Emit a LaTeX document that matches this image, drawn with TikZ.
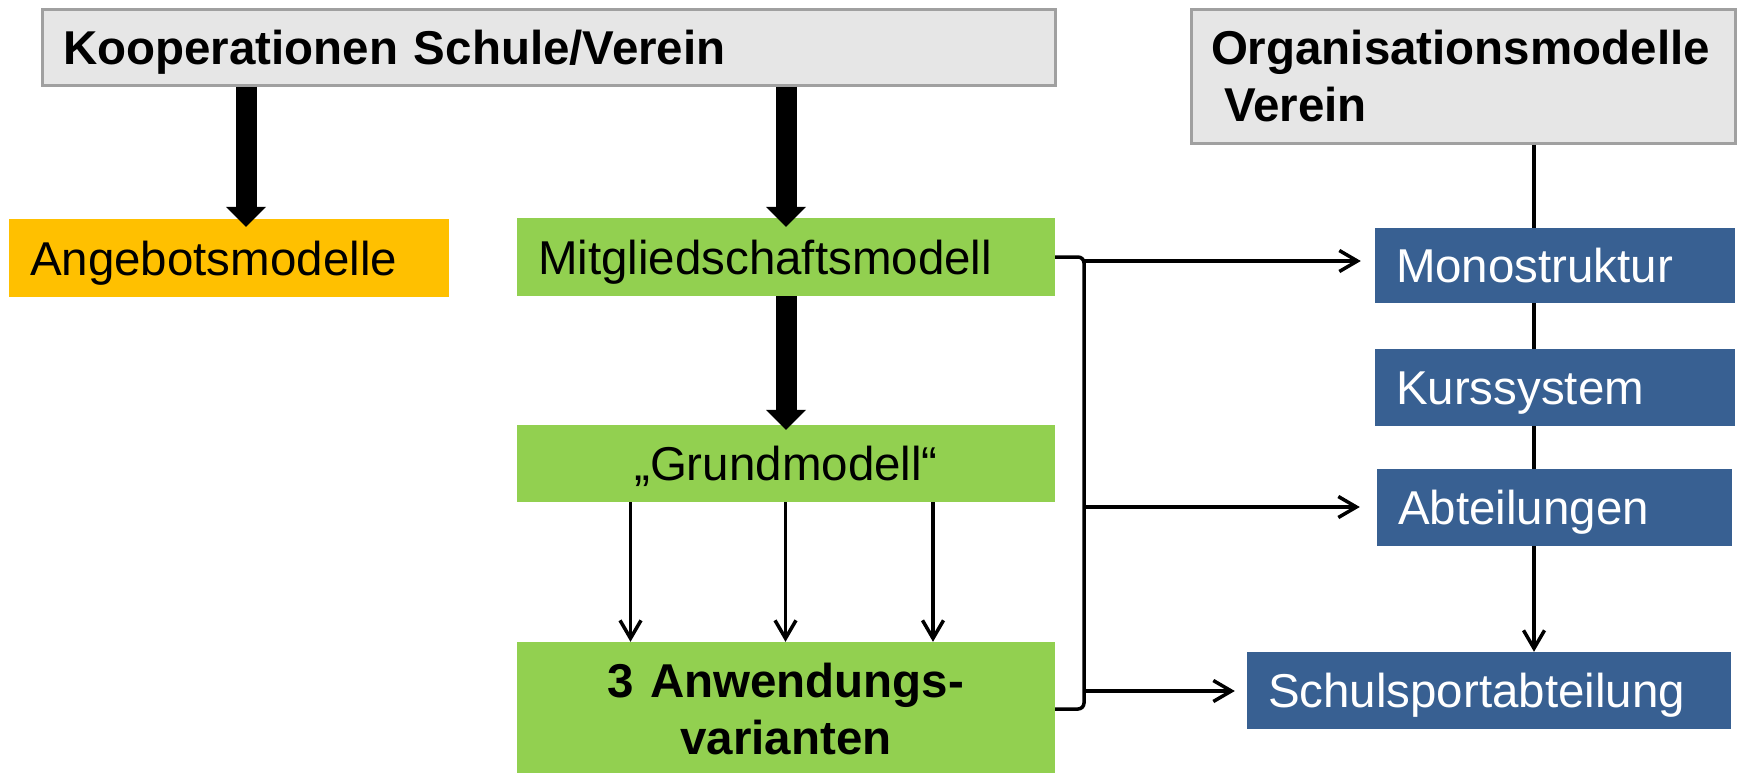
\documentclass[tikz,border=0pt]{standalone}
\usepackage{fontspec}
\setmainfont{Liberation Sans}
\usetikzlibrary{arrows.meta}
\definecolor{boxgray}{RGB}{230,230,230}
\definecolor{bordergray}{RGB}{160,160,160}
\definecolor{orng}{RGB}{255,192,0}
\definecolor{grn}{RGB}{146,208,80}
\definecolor{blu}{RGB}{56,96,146}
\tikzset{
  basebox/.style={font=\fontsize{47.5}{57}\selectfont, inner ysep=0pt, inner xsep=21pt, anchor=center, draw=none},
  oneline/.style={text height=40pt, text depth=6pt},
  titlebox/.style={basebox, fill=boxgray, draw=bordergray, line width=3pt, font=\fontsize{47.5}{57}\selectfont\bfseries, align=left},
  greenbox/.style={basebox, fill=grn},
  bluebox/.style={basebox, fill=blu, text=white, align=left, oneline},
  fatarrow/.style={line width=21pt, -{Triangle[width=40pt,length=20pt,line width=0pt]}},
  thinarrow/.style={line width=3.5pt, -{Straight Barb[length=18pt,width=21pt]}},
  thinline/.style={line width=3.5pt}
}
\begin{document}
\begin{tikzpicture}[x=1pt,y=-1pt]
\useasboundingbox (0,0) rectangle (1737,772);
% boxes
\node[titlebox, minimum width=1013pt, minimum height=76pt, text width=971pt, oneline] (t1) at (548.5,47) {Kooperationen Schule/Verein};
\node[titlebox, inner xsep=20pt, minimum width=544pt, minimum height=134pt, text width=504pt] (t2) at (1463,76) {Organisationsmodelle\\\hspace*{0.278em}Verein};
\node[basebox, fill=orng, minimum width=440pt, minimum height=78pt, text width=398pt, align=left, oneline] (ang) at (229,258) {Angebotsmodelle};
\node[greenbox, minimum width=538pt, minimum height=78pt, text width=496pt, align=left, oneline] (mit) at (786,257) {Mitgliedschaftsmodell};
\node[greenbox, minimum width=538pt, minimum height=77pt, text width=496pt, align=center, oneline] (grund) at (786,463.5) {„Grundmodell“};
\node[greenbox, minimum width=538pt, minimum height=134pt, text width=496pt, align=center, font=\fontsize{47.5}{57}\selectfont\bfseries] (anw) at (786,709) {3 Anwendungs-\\varianten};
\node[bluebox, minimum width=360pt, minimum height=75pt, text width=318pt] (mono) at (1555,265.5) {Monostruktur};
\node[bluebox, minimum width=360pt, minimum height=77pt, text width=318pt] (kurs) at (1555,387.5) {Kurssystem};
\node[bluebox, minimum width=355pt, minimum height=77pt, text width=313pt] (abt) at (1554.5,507.5) {Abteilungen};
\node[bluebox, minimum width=484pt, minimum height=77pt, text width=442pt] (schul) at (1489,690.5) {Schulsportabteilung};
% helper coordinates
\coordinate (ax) at (246,0);
\coordinate (mx) at (786,0);
\coordinate (g1) at (630.5,0);
\coordinate (g2) at (785.5,0);
\coordinate (g3) at (933,0);
\coordinate (vx) at (1534,0);
\coordinate (bx) at (1084,0);
\coordinate (m1) at (1084,261);
\coordinate (m2) at (1084,507);
\coordinate (m3) at (1084,691);
% thick arrows
\draw[fatarrow, shorten >=-8pt] (t1.south -| ax) -- (ang.north -| ax);
\draw[fatarrow, shorten >=-9pt] (t1.south -| mx) -- (mit.north -| mx);
\draw[fatarrow, shorten >=-5pt] (mit.south -| mx) -- (grund.north -| mx);
% thin arrows grund -> anw
\draw[thinarrow] (grund.south -| g1) -- (anw.north -| g1);
\draw[thinarrow] (grund.south -| g2) -- (anw.north -| g2);
\draw[thinarrow] (grund.south -| g3) -- (anw.north -| g3);
% bracket
\draw[thinline, rounded corners=6pt] (mit.east) -- (mit.east -| bx) -- (anw.east -| bx) -- (anw.east);
\draw[thinarrow, shorten >=14pt] (m1) -- (m1 -| mono.west);
\draw[thinarrow, shorten >=17pt] (m2) -- (m2 -| abt.west);
\draw[thinarrow, shorten >=12pt] (m3) -- (m3 -| schul.west);
% right column connectors
\draw[thinline] (t2.south -| vx) -- (mono.north -| vx);
\draw[thinline] (mono.south -| vx) -- (kurs.north -| vx);
\draw[thinline] (kurs.south -| vx) -- (abt.north -| vx);
\draw[thinarrow] (abt.south -| vx) -- (schul.north -| vx);
\end{tikzpicture}
\end{document}
